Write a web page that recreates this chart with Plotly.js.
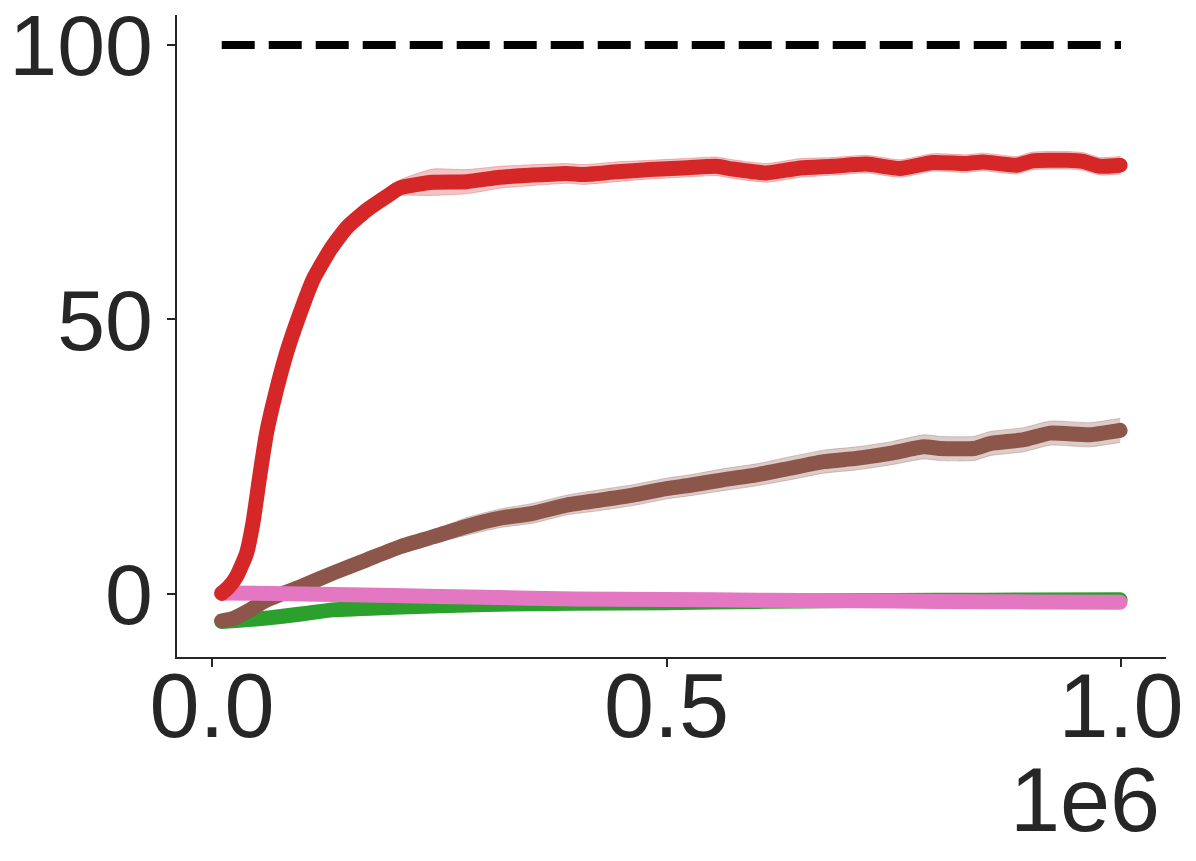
<!DOCTYPE html>
<html>
<head>
<meta charset="utf-8">
<script src="https://cdn.plot.ly/plotly-3.0.1.min.js"></script>
<style>
  html, body { margin: 0; padding: 0; background: #ffffff; }
  #chart { width: 1196px; height: 861px; }
  path.js-line { stroke-linecap: round; stroke-linejoin: round; }
  path.js-line[style*="dasharray"] { stroke-linecap: butt; }
</style>
</head>
<body>
<div id="chart"></div>
<script>
// ---- data (x in environment steps) ----
const refX = [10700, 1000000];
const refY = [100, 100];

const redX = [10700, 18000, 27000, 38000, 45000, 53000, 60000, 71000, 82000, 97000, 111000, 130000, 148000, 170000, 192000, 207000, 243000, 280000, 317000, 353000, 390000, 408000, 445000, 482000, 518000, 555000, 573000, 610000, 647000, 683000, 720000, 757000, 793000, 830000, 848000, 885000, 903000, 940000, 958000, 977000, 999000];
const redY = [0.1, 1.2, 3.2, 7.4, 12.9, 22.0, 29.3, 37.2, 43.9, 51.2, 57.2, 62.7, 66.7, 69.9, 72.4, 74.0, 75.0, 75.1, 75.9, 76.3, 76.6, 76.4, 76.9, 77.3, 77.6, 77.9, 77.4, 76.7, 77.6, 77.9, 78.3, 77.5, 78.6, 78.4, 78.7, 78.1, 78.9, 79.0, 78.8, 77.9, 78.1];
const redErr = [0.2, 0.2, 0.3, 0.3, 0.3, 0.4, 0.4, 0.4, 0.4, 0.5, 0.5, 0.5, 0.5, 0.5, 0.5, 1.4, 2.4, 2.2, 2.0, 1.9, 1.8, 1.8, 1.8, 1.7, 1.7, 1.7, 1.7, 1.7, 1.7, 1.6, 1.6, 1.6, 1.6, 1.6, 1.6, 1.6, 1.6, 1.6, 1.6, 1.6, 1.6];

const brownX = [10700, 23000, 42000, 60000, 97000, 133000, 170000, 207000, 243000, 280000, 317000, 353000, 390000, 427000, 463000, 500000, 526000, 562000, 599000, 636000, 673000, 709000, 746000, 783000, 801000, 838000, 856000, 893000, 922000, 966000, 999000];
const brownY = [-4.9, -4.5, -2.9, -1.1, 1.3, 3.8, 6.2, 8.6, 10.4, 12.3, 13.8, 14.7, 16.2, 17.1, 18.0, 19.2, 19.8, 20.8, 21.7, 22.9, 24.1, 24.7, 25.6, 26.8, 26.5, 26.5, 27.4, 28.1, 29.3, 29.0, 29.8];
const brownErr = [0.2, 0.2, 0.3, 0.3, 0.3, 0.4, 0.5, 0.6, 1.2, 1.6, 1.7, 1.8, 1.8, 1.9, 1.9, 1.9, 1.9, 2.0, 2.0, 2.1, 2.1, 2.1, 2.1, 2.2, 2.2, 2.2, 2.2, 2.2, 2.2, 2.2, 2.2];

const greenX = [10700, 30000, 60000, 100000, 133000, 200000, 300000, 400000, 500000, 600000, 700000, 800000, 900000, 999000];
const greenY = [-5.0, -4.8, -4.4, -3.6, -2.9, -2.4, -1.9, -1.7, -1.6, -1.35, -1.2, -1.15, -1.1, -1.05];

const pinkX = [10700, 100000, 200000, 300000, 400000, 500000, 600000, 700000, 800000, 900000, 999000];
const pinkY = [0.2, 0.0, -0.3, -0.6, -0.9, -1.0, -1.15, -1.25, -1.35, -1.45, -1.5];

const xTickVals = [0, 500000, 1000000];
const xTickText = ['0.0', '0.5', '1.0'];
const yTickVals = [0, 50, 100];
const yTickText = ['0', '50', '100'];
const xExponentLabel = '1e6';

// ---- build traces ----
const LW = 15;
function band(x, y, err, rgba) {
  const lo = y.map((v, i) => v - err[i]);
  const hi = y.map((v, i) => v + err[i]);
  return [
    {x: x, y: lo, mode: 'lines', line: {color: rgba, width: 1, shape: 'spline', smoothing: 0.5}, hoverinfo: 'skip', showlegend: false},
    {x: x, y: hi, mode: 'lines', line: {color: rgba, width: 1, shape: 'spline', smoothing: 0.5}, fill: 'tonexty', fillcolor: rgba, hoverinfo: 'skip', showlegend: false}
  ];
}
function line(x, y, color) {
  return {x: x, y: y, mode: 'lines', line: {color: color, width: LW, shape: 'spline', smoothing: 0.5}, showlegend: false};
}

const traces = [
  line(greenX, greenY, '#2ca02c'),
  ...band(brownX, brownY, brownErr, 'rgba(140,86,75,0.3)'),
  line(brownX, brownY, '#8c564b'),
  line(pinkX, pinkY, '#e377c2'),
  ...band(redX, redY, redErr, 'rgba(214,39,40,0.28)'),
  line(redX, redY, '#d62728'),
  {x: refX, y: refY, mode: 'lines', line: {color: '#000000', width: 8, dash: '33px,14px'}, showlegend: false}
];

const FONT = 'Liberation Sans, Arial, Helvetica, sans-serif';
const axisCommon = {
  showline: true, linecolor: '#262626', linewidth: 2,
  ticks: 'outside', ticklen: 8, tickwidth: 2, tickcolor: '#262626',
  showgrid: false, zeroline: false, ticklabeloverflow: 'allow',
  tickfont: {family: FONT, size: 90, color: '#262626'}
};

const layout = {
  width: 1196, height: 861,
  margin: {l: 177, r: 30, t: 15, b: 204},
  paper_bgcolor: '#ffffff', plot_bgcolor: '#ffffff',
  showlegend: false,
  xaxis: Object.assign({}, axisCommon, {
    range: [-38500, 1049500],
    tickmode: 'array', tickvals: xTickVals, ticktext: xTickText,
    ticklabelstandoff: -38
  }),
  yaxis: Object.assign({}, axisCommon, {
    range: [-11.48, 105.46],
    tickmode: 'array', tickvals: yTickVals, ticktext: yTickText,
    ticklabelstandoff: -3,
    tickfont: {family: FONT, size: 86, color: '#262626'}
  }),
  annotations: [{
    text: xExponentLabel, xref: 'paper', yref: 'paper',
    x: 0.996, y: -0.2227, xanchor: 'right', yanchor: 'middle',
    showarrow: false, font: {family: FONT, size: 90, color: '#262626'}
  }]
};

Plotly.newPlot('chart', traces, layout, {displayModeBar: false, staticPlot: true});
</script>
</body>
</html>
